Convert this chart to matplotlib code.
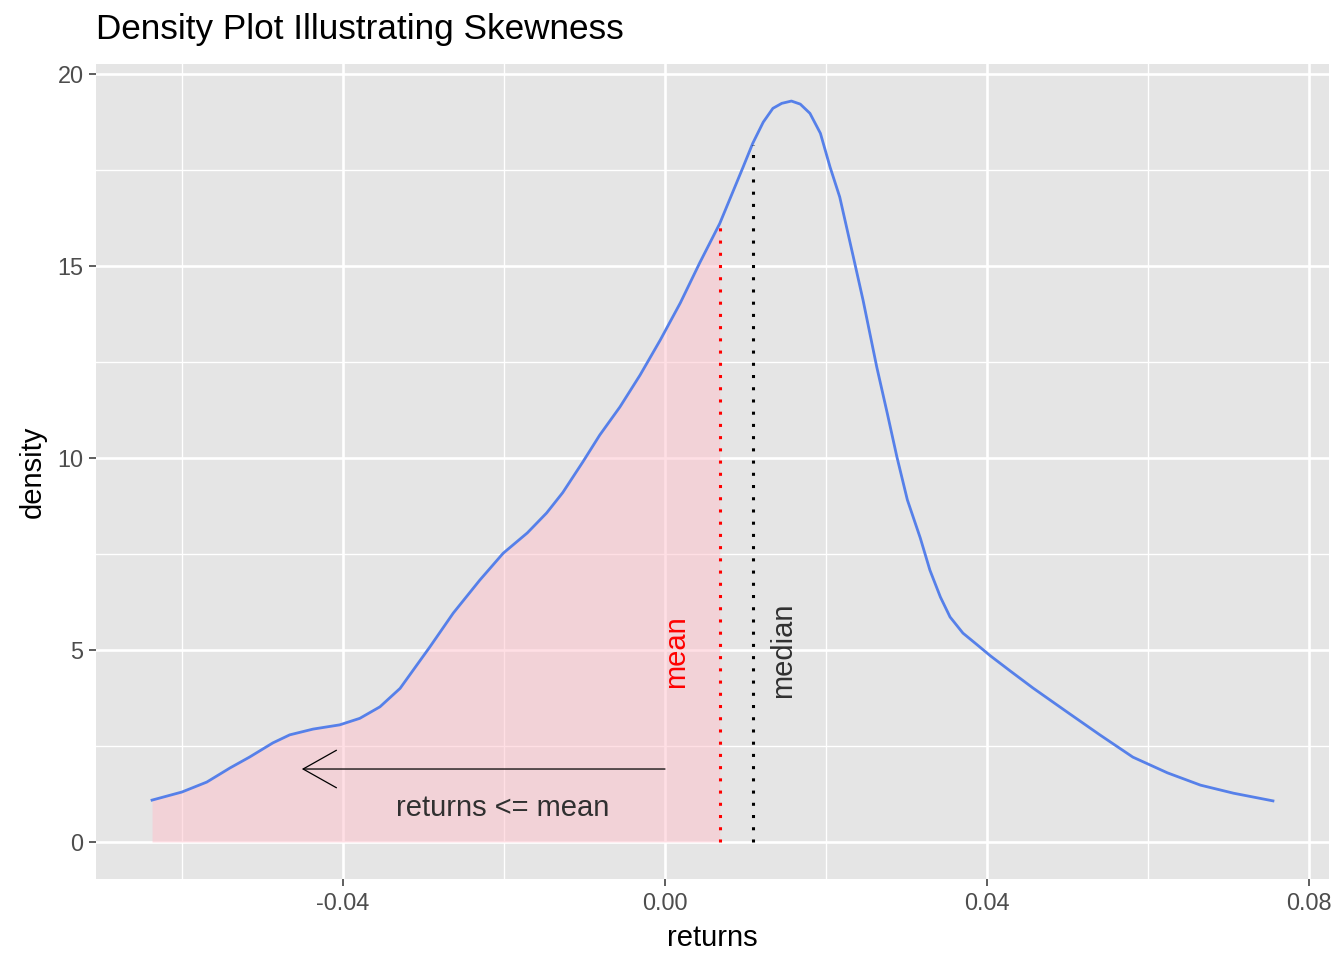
import numpy as np
import matplotlib
matplotlib.use("Agg")
import matplotlib.pyplot as plt

plt.rcParams['font.family'] = ['Liberation Sans', 'DejaVu Sans']

# density curve
returns = [-0.0637, -0.0600, -0.0569, -0.0540, -0.0516, -0.0487, -0.0466, -0.0437,
           -0.0404, -0.0379, -0.0354, -0.0329, -0.0292, -0.0263, -0.0230, -0.0201,
           -0.0171, -0.0147, -0.0127, -0.0102, -0.0081, -0.0056, -0.0031, -0.0006,
           0.0019, 0.0043, 0.0068, 0.0097, 0.0109, 0.0122, 0.0134, 0.0145,
           0.0157, 0.0168, 0.0180, 0.0193, 0.0205, 0.0217, 0.0234, 0.0246,
           0.0263, 0.0276, 0.0288, 0.0301, 0.0317, 0.0329, 0.0342, 0.0354,
           0.0370, 0.0388, 0.0404, 0.0429, 0.0457, 0.0499, 0.0540, 0.0581,
           0.0624, 0.0665, 0.0706, 0.0755]
density = [1.09, 1.30, 1.56, 1.93, 2.21, 2.58, 2.79, 2.94,
           3.05, 3.22, 3.52, 4.00, 5.08, 5.96, 6.82, 7.52,
           8.05, 8.57, 9.10, 9.90, 10.60, 11.33, 12.16, 13.07,
           14.04, 15.08, 16.11, 17.58, 18.20, 18.75, 19.11, 19.24,
           19.30, 19.22, 18.98, 18.46, 17.58, 16.80, 15.23, 14.11,
           12.37, 11.17, 10.03, 8.91, 7.92, 7.08, 6.38, 5.86,
           5.44, 5.13, 4.85, 4.45, 4.01, 3.39, 2.79, 2.21,
           1.80, 1.48, 1.27, 1.07]

mean_ret = 0.0068
median_ret = 0.0109
mean_dens = 16.11
median_dens = 18.15
arrow_start = 0.0
arrow_end = -0.0451
arrow_y = 1.9

x = np.array(returns)
y = np.array(density)

fig = plt.figure(figsize=(13.44, 9.6), dpi=100)
ax = fig.add_axes([96 / 1344, 81 / 960, (1329 - 96) / 1344, (879 - 64) / 960])
ax.set_facecolor("#E5E5E5")
for s in ax.spines.values():
    s.set_visible(False)

# ggplot style limits (5% expansion)
xr = x.max() - x.min()
ax.set_xlim(x.min() - 0.05 * xr, x.max() + 0.05 * xr)
yr = y.max() - 0
ax.set_ylim(0 - 0.05 * yr, y.max() + 0.05 * yr)

ax.set_xticks([-0.04, 0.0, 0.04, 0.08])
ax.set_xticklabels(["-0.04", "0.00", "0.04", "0.08"])
ax.set_xticks([-0.06, -0.02, 0.02, 0.06], minor=True)
ax.set_yticks([0, 5, 10, 15, 20])
ax.set_yticks([2.5, 7.5, 12.5, 17.5], minor=True)
ax.grid(which="major", color="white", lw=1.9)
ax.grid(which="minor", color="white", lw=0.95)
ax.set_axisbelow(True)
ax.tick_params(which="major", length=5, width=1.1, color="#333333",
               labelsize=16.9, labelcolor="#4D4D4D", pad=4)
ax.tick_params(which="minor", length=0)

# shaded area left of the mean
mask = x <= mean_ret
ax.fill_between(x[mask], 0, y[mask], color="pink", alpha=0.5, lw=0)
ax.plot(x, y, color="#5680E9", lw=2.0, solid_joinstyle="round")

ax.plot([mean_ret, mean_ret], [0, mean_dens], color="red", lw=2.2,
        linestyle=(0, (1, 3)), dash_capstyle="butt")
ax.plot([median_ret, median_ret], [0, median_dens], color="black", lw=2.2,
        linestyle=(0, (1, 3)), dash_capstyle="butt")

ax.annotate("", xy=(arrow_end, arrow_y), xytext=(arrow_start, arrow_y),
            arrowprops=dict(arrowstyle="->,head_length=24,head_width=13.5",
                            mutation_scale=1, lw=0.9, color="black",
                            shrinkA=0, shrinkB=0))
ax.text(-0.0201, 0.885, "returns <= mean", fontsize=21, color="#303030",
        ha="center", va="center")
ax.text(0.0014, 4.97, "mean", fontsize=21, color="red", rotation=90,
        ha="center", va="center")
ax.text(0.0147, 5.0, "median", fontsize=21, color="#303030", rotation=90,
        ha="center", va="center")

ax.set_xlabel("returns", fontsize=21, labelpad=7)
ax.set_ylabel("density", fontsize=21, labelpad=8)
fig.text(96 / 1344, 1 - 29 / 960, "Density Plot Illustrating Skewness",
         fontsize=25.3, ha="left", va="center")

fig.savefig("out.png", dpi=100)
